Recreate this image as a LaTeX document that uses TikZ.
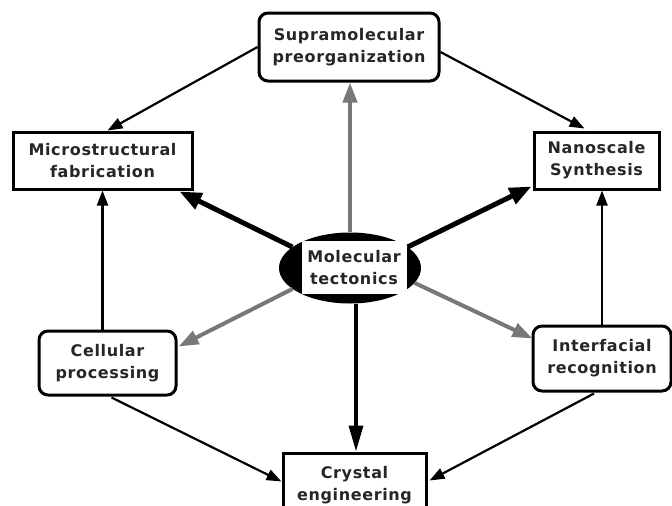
\documentclass[tikz,border=0pt]{standalone}
\usepackage{fontspec}
\setmainfont{DejaVu Sans}[LetterSpace=4]
\usetikzlibrary{arrows.meta,shapes.geometric,calc}
\definecolor{arrgray}{RGB}{120,120,120}
\tikzset{
  lbl/.style={font=\bfseries\fontsize{16}{22}\selectfont, align=center, inner sep=0pt, text=black!85},
  sqbox/.style={lbl, draw=black, line width=3pt, fill=white},
  rbox/.style={sqbox, rounded corners=9pt},
  thinarr/.style={draw=black, line width=2.2pt, -{Triangle[length=15pt,width=11pt]}},
  thickarr/.style={draw=black, line width=5pt, -{Triangle[length=22pt,width=17pt]}},
  downarr/.style={draw=black, line width=3.5pt, -{Triangle[length=26pt,width=14pt]}},
  grayarr/.style={draw=arrgray, line width=4pt, -{Triangle[length=20pt,width=14pt]}},
}
\begin{document}
\begin{tikzpicture}[x=1pt,y=-1pt]
\useasboundingbox (0,0) rectangle (672,506);
\clip (0,0) rectangle (672,506);
\fill[white] (0,0) rectangle (672,506);

\node[rbox, minimum width=180pt, minimum height=68pt] (sup) at (349,47) {Supramolecular\\preorganization};
\node[sqbox, minimum width=179pt, minimum height=57pt] (mic) at (102.5,160.5) {Microstructural\\fabrication};
\node[sqbox, minimum width=125pt, minimum height=57pt] (nan) at (596.5,160.5) {Nanoscale\\Synthesis};
\node[rbox, minimum width=137pt, minimum height=64pt] (cel) at (107.5,363) {Cellular\\processing};
\node[rbox, minimum width=138pt, minimum height=65pt] (int) at (602,358.5) {Interfacial\\recognition};
\node[sqbox, minimum width=143pt, minimum height=64pt] (cry) at (354.5,485) {Crystal\\engineering};

\node[ellipse, fill=black, minimum width=142pt, minimum height=71pt, inner sep=0pt] (mol) at (350,268) {};
\node[lbl, fill=white, minimum width=105pt, minimum height=53pt] (moltext) at (354,267.5) {Molecular\\tectonics};

% outer ring
\draw[thinarr] (sup.west) -- ($(mic.north)+(5,0)$);
\draw[thinarr] ($(sup.east)+(0,5)$) -- ($(nan.north)+(-12,-2)$);
\draw[thinarr] (cel.north -| mic.south) -- (mic.south);
\draw[thinarr] (int.north) -- (int.north |- nan.south);
\draw[thinarr] ($(cel.south)+(4,1)$) -- ($(cry.north west)+(0,30)$);
\draw[thinarr] ($(int.south)+(-8,1)$) -- ($(cry.north east)+(2,29)$);

% from centre
\coordinate (ds) at ($(mol.south)+(6,0)$);
\draw[grayarr] (mol.north) -- (mol.north |- sup.south);
\draw[thickarr] (mol.160) -- ($(mic.south east)+(-14,1)$);
\draw[thickarr] (mol.20) -- ($(nan.south west)+(-1,-4)$);
\draw[grayarr] (mol.200) -- ($(cel.north east)+(1,17)$);
\draw[grayarr] (mol.-13) -- ($(int.north west)+(1,14)$);
\draw[downarr] (ds) -- (ds |- cry.north);
\end{tikzpicture}
\end{document}
